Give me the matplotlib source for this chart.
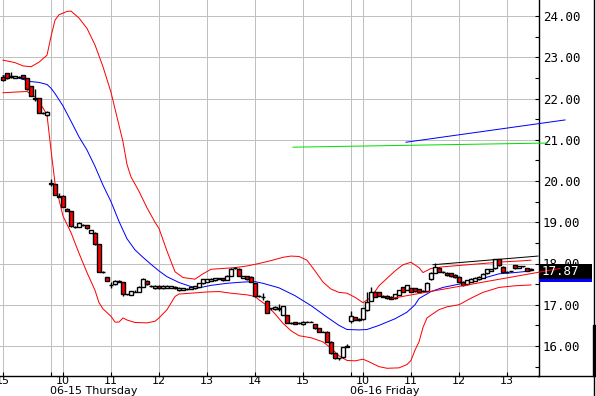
import matplotlib
matplotlib.use("Agg")
import matplotlib.pyplot as plt
from matplotlib.patches import Rectangle
import numpy as np

# 5-minute bars, index 0 = 15:00 on 06-14
opens = [22.53, 22.62, 22.54, 22.50, 22.52, 22.57, 22.49, 22.30, 22.00, 22.00, 21.66, 21.59,
         19.95, 19.92, 19.63, 19.64, 19.32, 19.27, 18.89, 18.89, 18.94, 18.93, 18.74, 18.75,
         18.47, 17.79, 17.67, 17.48, 17.50, 17.58, 17.54, 17.25, 17.24, 17.31, 17.32, 17.44,
         17.58, 17.46, 17.40, 17.46, 17.40, 17.41, 17.41, 17.44, 17.35, 17.36, 17.38, 17.38,
         17.40, 17.44, 17.52, 17.56, 17.58, 17.59, 17.63, 17.65, 17.60, 17.70, 17.88, 17.87,
         17.66, 17.69, 17.68, 17.52, 17.21, 17.20, 17.10, 16.91, 16.89, 16.89, 16.75, 16.75,
         16.56, 16.58, 16.56, 16.53, 16.59, 16.59, 16.53, 16.43, 16.35, 16.35, 16.10, 15.82,
         15.70, 15.73, 15.98,
         16.61, 16.70, 16.66, 16.65, 16.87, 17.10, 17.32, 17.30, 17.22, 17.22, 17.20, 17.16,
         17.24, 17.42, 17.36, 17.40, 17.40, 17.38, 17.34, 17.34, 17.62, 17.78, 17.90, 17.80,
         17.78, 17.76, 17.73, 17.68, 17.56, 17.50, 17.55, 17.58, 17.62, 17.65, 17.76, 17.82,
         17.88, 18.10, 17.92, 17.80, 17.81, 17.96, 17.90, 17.93, 17.88, 17.85]
closes = [22.44, 22.49, 22.52, 22.54, 22.52, 22.49, 22.22, 22.06, 21.99, 21.66, 21.65, 21.68,
          19.93, 19.66, 19.62, 19.38, 19.28, 18.90, 18.89, 18.99, 18.94, 18.85, 18.80, 18.47,
          17.80, 17.79, 17.58, 17.48, 17.58, 17.55, 17.25, 17.25, 17.33, 17.32, 17.44, 17.62,
          17.50, 17.46, 17.46, 17.40, 17.46, 17.46, 17.45, 17.40, 17.41, 17.40, 17.38, 17.42,
          17.45, 17.52, 17.62, 17.62, 17.63, 17.64, 17.64, 17.59, 17.70, 17.87, 17.88, 17.70,
          17.69, 17.62, 17.56, 17.21, 17.21, 17.20, 16.81, 16.91, 16.94, 16.93, 16.97, 16.56,
          16.56, 16.54, 16.56, 16.59, 16.59, 16.59, 16.43, 16.35, 16.35, 16.10, 15.82, 15.70,
          15.70, 15.97, 16.00,
          16.72, 16.64, 16.64, 16.91, 17.07, 17.32, 17.20, 17.22, 17.20, 17.16, 17.14, 17.25,
          17.35, 17.32, 17.48, 17.32, 17.33, 17.32, 17.34, 17.53, 17.78, 17.91, 17.80, 17.80,
          17.71, 17.69, 17.67, 17.56, 17.48, 17.60, 17.63, 17.66, 17.68, 17.75, 17.86, 17.86,
          18.10, 17.96, 17.80, 17.80, 17.81, 17.88, 17.94, 17.93, 17.82, 17.87]
highs = [22.56, 22.63, 22.65, 22.55, 22.54, 22.58, 22.50, 22.31, 22.22, 22.01, 21.68, 21.69,
         20.05, 19.93, 19.70, 19.65, 19.34, 19.28, 18.92, 19.00, 18.96, 18.94, 18.82, 18.76,
         18.48, 17.83, 17.68, 17.55, 17.60, 17.60, 17.55, 17.27, 17.34, 17.35, 17.45, 17.66,
         17.60, 17.48, 17.47, 17.47, 17.47, 17.47, 17.46, 17.45, 17.42, 17.41, 17.40, 17.43,
         17.46, 17.53, 17.63, 17.63, 17.64, 17.65, 17.66, 17.66, 17.71, 17.90, 17.92, 17.88,
         17.70, 17.70, 17.69, 17.53, 17.23, 17.28, 17.11, 16.93, 16.98, 17.02, 16.98, 16.76,
         16.58, 16.59, 16.58, 16.60, 16.61, 16.61, 16.54, 16.44, 16.37, 16.36, 16.11, 15.83,
         15.72, 15.98, 16.06,
         16.86, 16.71, 16.67, 16.92, 17.32, 17.42, 17.33, 17.31, 17.23, 17.23, 17.21, 17.26,
         17.36, 17.43, 17.49, 17.41, 17.41, 17.39, 17.36, 17.54, 17.79, 18.02, 17.91, 17.82,
         17.79, 17.77, 17.74, 17.69, 17.57, 17.61, 17.64, 17.67, 17.69, 17.76, 17.87, 17.87,
         18.11, 18.11, 17.93, 17.82, 17.83, 17.97, 17.95, 17.95, 17.89, 17.88]
lows = [22.42, 22.48, 22.49, 22.49, 22.50, 22.48, 22.21, 22.05, 21.95, 21.65, 21.63, 21.58,
        19.88, 19.65, 19.60, 19.37, 19.27, 18.88, 18.86, 18.88, 18.92, 18.84, 18.73, 18.46,
        17.79, 17.76, 17.57, 17.40, 17.49, 17.54, 17.22, 17.23, 17.23, 17.30, 17.31, 17.43,
        17.49, 17.44, 17.39, 17.39, 17.39, 17.40, 17.40, 17.39, 17.34, 17.35, 17.36, 17.37,
        17.39, 17.43, 17.51, 17.55, 17.57, 17.58, 17.62, 17.58, 17.59, 17.69, 17.86, 17.69,
        17.65, 17.61, 17.55, 17.20, 17.19, 17.12, 16.80, 16.88, 16.87, 16.84, 16.74, 16.55,
        16.54, 16.53, 16.54, 16.52, 16.57, 16.57, 16.42, 16.34, 16.33, 16.09, 15.81, 15.69,
        15.65, 15.72, 15.97,
        16.55, 16.63, 16.60, 16.64, 16.86, 17.09, 17.19, 17.21, 17.19, 17.15, 17.13, 17.15,
        17.23, 17.31, 17.35, 17.31, 17.32, 17.31, 17.32, 17.33, 17.61, 17.77, 17.79, 17.78,
        17.70, 17.68, 17.66, 17.55, 17.45, 17.49, 17.54, 17.57, 17.61, 17.64, 17.75, 17.81,
        17.87, 17.95, 17.79, 17.78, 17.79, 17.87, 17.89, 17.91, 17.81, 17.84]

# bollinger bands
upper_idx = [0, 3, 5, 7, 9, 11, 12, 13, 14, 16, 17, 19, 21, 23, 25, 27, 29, 30, 31, 32, 34, 36,
             38, 39, 41, 43, 45, 48, 50, 52, 55, 58, 61, 64, 67, 70, 72, 74, 76, 78, 80, 82, 84,
             86, 88, 90, 92, 94, 96, 98, 100, 102, 104, 105, 107, 110, 115, 120, 125, 129, 132]
upper = [22.93, 22.87, 22.79, 22.77, 22.88, 23.05, 23.50, 23.90, 24.03, 24.11, 24.12, 23.95,
         23.70, 23.30, 22.77, 22.15, 21.35, 20.95, 20.40, 20.10, 19.75, 19.35, 19.00, 18.85,
         18.30, 17.80, 17.66, 17.62, 17.75, 17.86, 17.88, 17.90, 17.94, 18.00, 18.07, 18.15,
         18.18, 18.17, 18.08, 17.82, 17.55, 17.38, 17.30, 17.28, 17.18, 17.05, 17.18, 17.46,
         17.64, 17.82, 17.97, 18.03, 17.90, 17.78, 17.88, 17.92, 17.96, 18.00, 18.04, 18.06, 18.08]
mid_idx = [0, 2, 4, 7, 9, 11, 12, 13, 15, 17, 19, 21, 23, 25, 27, 29, 31, 33, 35, 37, 39, 41,
           44, 47, 49, 52, 56, 60, 63, 65, 69, 73, 77, 81, 84, 86, 89, 91, 94, 98, 101, 103,
           104, 107, 110, 115, 120, 124, 128, 132]
middle = [22.55, 22.53, 22.49, 22.41, 22.39, 22.34, 22.25, 22.12, 21.82, 21.45, 21.07, 20.75,
          20.35, 19.90, 19.50, 19.02, 18.60, 18.33, 18.15, 17.98, 17.82, 17.68, 17.54, 17.44,
          17.41, 17.47, 17.52, 17.55, 17.56, 17.52, 17.41, 17.22, 16.98, 16.70, 16.50, 16.40,
          16.39, 16.40, 16.50, 16.66, 16.82, 17.00, 17.15, 17.32, 17.42, 17.52, 17.64, 17.75,
          17.78, 17.82]
lower_idx = [0, 4, 6, 8, 9, 10, 11, 12, 13, 14, 15, 16, 17, 19, 21, 23, 24, 25, 27, 28, 29, 30,
             31, 33, 36, 38, 39, 41, 43, 44, 47, 51, 54, 57, 61, 63, 64, 66, 68, 70, 72, 74, 77,
             80, 82, 84, 86, 88, 90, 91, 94, 96, 99, 101, 102, 103, 104, 105, 106, 107, 109,
             111, 114, 117, 120, 124, 128, 132]
lower = [22.14, 22.16, 22.17, 22.04, 21.90, 21.77, 21.60, 20.75, 19.95, 19.55, 19.15, 18.95,
         18.75, 18.25, 17.78, 17.35, 17.05, 16.90, 16.72, 16.58, 16.58, 16.68, 16.63, 16.57,
         16.56, 16.60, 16.68, 16.88, 17.20, 17.26, 17.28, 17.31, 17.32, 17.28, 17.24, 17.20,
         17.12, 16.98, 16.78, 16.55, 16.37, 16.25, 16.20, 16.10, 15.95, 15.76, 15.65, 15.64,
         15.68, 15.64, 15.50, 15.46, 15.47, 15.55, 15.65, 15.90, 16.10, 16.45, 16.68, 16.75,
         16.88, 16.95, 17.00, 17.16, 17.30, 17.42, 17.46, 17.48]

# drawn lines (start, end)
green_x = [72.5, 136.0]
green_y = [20.82, 20.92]
blue_x = [100.75, 140.5]
blue_y = [20.94, 21.48]
black_x = [107.5, 133.75]
black_y = [17.97, 18.18]
red_x = [97.5, 139.25]
red_y = [17.16, 17.88]

hour_pos = [0, 15, 27, 39, 51, 63, 75, 90, 102, 114, 126]
hour_lbl = ["15", "10", "11", "12", "13", "14", "15", "10", "11", "12", "13"]
day_pos = [12, 87]
day_lbl = ["06-15 Thursday", "06-16 Friday"]
last_price = "17.87"

W, H = 596, 396
fig = plt.figure(figsize=(W / 100, H / 100), dpi=100)
ax = fig.add_axes([0, (H - 375.5) / H, 538.5 / W, 375.5 / H])

ax.set_xlim(-0.75, 133.875)
ax.set_ylim(24 - 359.5 / 41.25, 24 + 16 / 41.25)

px = 0.72
for y in range(16, 25):
    ax.axhline(y, color="#c0c0c0", lw=px, zorder=0)
for x in hour_pos + day_pos:
    ax.axvline(x, color="#c0c0c0", lw=px, zorder=0)

ax.plot(upper_idx, upper, color="red", lw=px, zorder=2)
ax.plot(lower_idx, lower, color="red", lw=px, zorder=2)
ax.plot(mid_idx, middle, color="blue", lw=px, zorder=2)

idx = np.arange(len(opens))
o = np.array(opens)
c = np.array(closes)
ax.vlines(idx, lows, highs, color="black", lw=px * 1.4, zorder=3)
cols = ["red" if cc < oo else "white" for oo, cc in zip(o, c)]
ax.bar(idx, np.abs(c - o), bottom=np.minimum(o, c), width=0.78, color=cols,
       edgecolor="black", linewidth=px * 1.4, zorder=4)

ax.plot(green_x, green_y, color="#00e000", lw=px, zorder=8, clip_on=False)
ax.plot(blue_x, blue_y, color="blue", lw=px, zorder=8, clip_on=False)
ax.plot(black_x, black_y, color="black", lw=px, zorder=5)
ax.plot(red_x, red_y, color="red", lw=px, zorder=8, clip_on=False)

for s in ["left", "top"]:
    ax.spines[s].set_visible(False)
ax.spines["right"].set_linewidth(1.0)
ax.spines["bottom"].set_linewidth(1.0)

ax.yaxis.tick_right()
ax.set_yticks(range(16, 25))
ax.set_yticklabels(["%.2f" % v for v in range(16, 25)], family="DejaVu Sans Mono", fontsize=9)
ax.set_yticks(np.arange(15.5, 24.5, 1.0), minor=True)
ax.tick_params(axis="y", which="both", direction="in", length=3, width=0.8, pad=3)

ax.set_xticks(hour_pos)
ax.set_xticklabels(hour_lbl, fontsize=8)
ax.set_xticks(day_pos, minor=True)
ax.tick_params(axis="x", which="both", direction="in", length=3, width=0.8, pad=0.5)

for x, t in zip(day_pos, day_lbl):
    ax.text(x - 0.3, -15.5 / 375.5, t, transform=ax.get_xaxis_transform(), fontsize=8,
            ha="left", va="center", clip_on=False)

# last price box
def ax_xy(xp, yp):
    return xp / 538.5, (375.5 - yp) / 375.5

bx, by = ax_xy(539, 279.3)
ax.add_patch(Rectangle((bx, by), 53 / 538.5, 15 / 375.5, transform=ax.transAxes,
                       facecolor="black", edgecolor="none", zorder=6, clip_on=False))
bx2, by2 = ax_xy(539, 281.7)
ax.add_patch(Rectangle((bx2, by2), 53 / 538.5, 2.4 / 375.5, transform=ax.transAxes,
                       facecolor="blue", edgecolor="none", zorder=6, clip_on=False))
tx, ty = ax_xy(542, 271.8)
ax.text(tx, ty, last_price, transform=ax.transAxes, color="white", fontsize=9,
        family="DejaVu Sans Mono", ha="left", va="center", zorder=9, clip_on=False)

# frame pieces right of the plot
fig.add_artist(plt.Line2D([538 / W, 593.5 / W], [(H - 375.5) / H] * 2, color="black",
                          lw=1.0, transform=fig.transFigure))
fig.add_artist(plt.Line2D([593.5 / W] * 2, [0, 1], color="black", lw=1.0,
                          transform=fig.transFigure))
fig.add_artist(Rectangle((593 / W, (H - 376) / H), 3 / W, 51 / H, color="black",
                         transform=fig.transFigure))

fig.savefig("out.png", dpi=100)
